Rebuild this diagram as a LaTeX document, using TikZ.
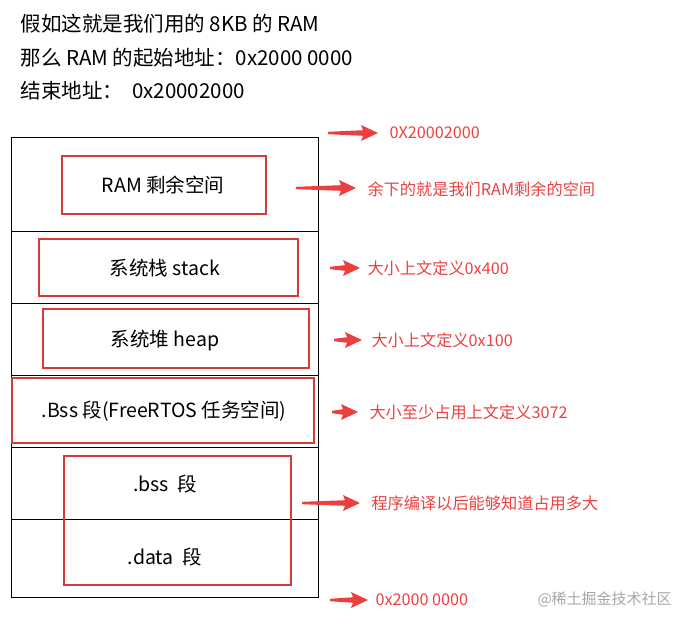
\documentclass[tikz,border=0pt]{standalone}
\usepackage{fontspec}
\setmainfont{Noto Sans CJK SC}
\begin{document}
\begin{tikzpicture}[x=1pt,y=-1pt,
  cell/.style={font=\fontsize{19.5}{22}\selectfont},
  top/.style={anchor=west,font=\fontsize{20.5}{22}\selectfont},
  lab/.style={anchor=west,text=arrowred,font=\fontsize{16.2}{18}\selectfont},
  ]
\definecolor{arrowred}{RGB}{236,64,64}
\tikzset{rbox/.style={draw=arrowred!90!black, line width=1.8pt}}
\useasboundingbox (0,0) rectangle (684,624);
\newcommand{\redarrow}[3]{% y, x0, x1
  \fill[arrowred] (#2,#1-1.2) -- (#3-15,#1-2.8) -- (#3-17,#1-8) -- (#3,#1) -- (#3-17,#1+8) -- (#3-15,#1+2.8) -- (#2,#1+1.2) -- cycle;}
\node[top] (t1) at (17,24) {假如这就是我们用的 8KB 的 RAM};
\node[top] (t2) at (17,58) {那么 RAM 的起始地址：0x2000 0000};
\node[top] (t3) at (17,91) {结束地址：\ \ 0x20002000};
\draw[line width=0.6pt] (11,137) rectangle (318,597);
\foreach \y in {231,303,375,447,519} \draw[line width=0.6pt] (11,\y) -- (318,\y);
\draw[rbox] (62,156) rectangle (266,214);
\draw[rbox] (39,239) rectangle (298,296);
\draw[rbox] (43,309) rectangle (309,368);
\draw[rbox] (12,378) rectangle (314,443);
\draw[rbox] (64,456) rectangle (291,585);
\node[cell] (c1) at (163,185) {RAM 剩余空间};
\node[cell] (c2) at (165,268) {系统栈 stack};
\node[cell] (c3) at (165,340) {系统堆 heap};
\node[cell] (c4) at (164,411) {.Bss 段(FreeRTOS 任务空间)};
\node[cell] (c5) at (165,484) {.bss\ \ 段};
\node[cell] (c6) at (165,557) {.data\ \ 段};
\redarrow{133}{328}{378}
\redarrow{188}{296}{356}
\redarrow{268}{330}{360}
\redarrow{340}{334}{362}
\redarrow{412}{332}{358}
\redarrow{503}{302}{360}
\redarrow{600}{330}{368}
\node[lab] (l1) at (386,133) {0X20002000};
\node[lab] (l2) at (364,189) {余下的就是我们RAM剩余的空间};
\node[lab] (l3) at (364,268) {大小上文定义0x400};
\node[lab] (l4) at (368,340) {大小上文定义0x100};
\node[lab] (l5) at (366,412) {大小至少占用上文定义3072};
\node[lab] (l6) at (368,503) {程序编译以后能够知道占用多大};
\node[lab] (l7) at (372,600) {0x2000 0000};
\node[anchor=west,text=gray!70,font=\fontsize{15}{17}\selectfont] (wm) at (534,599) {@稀土掘金技术社区};
\end{tikzpicture}
\end{document}
